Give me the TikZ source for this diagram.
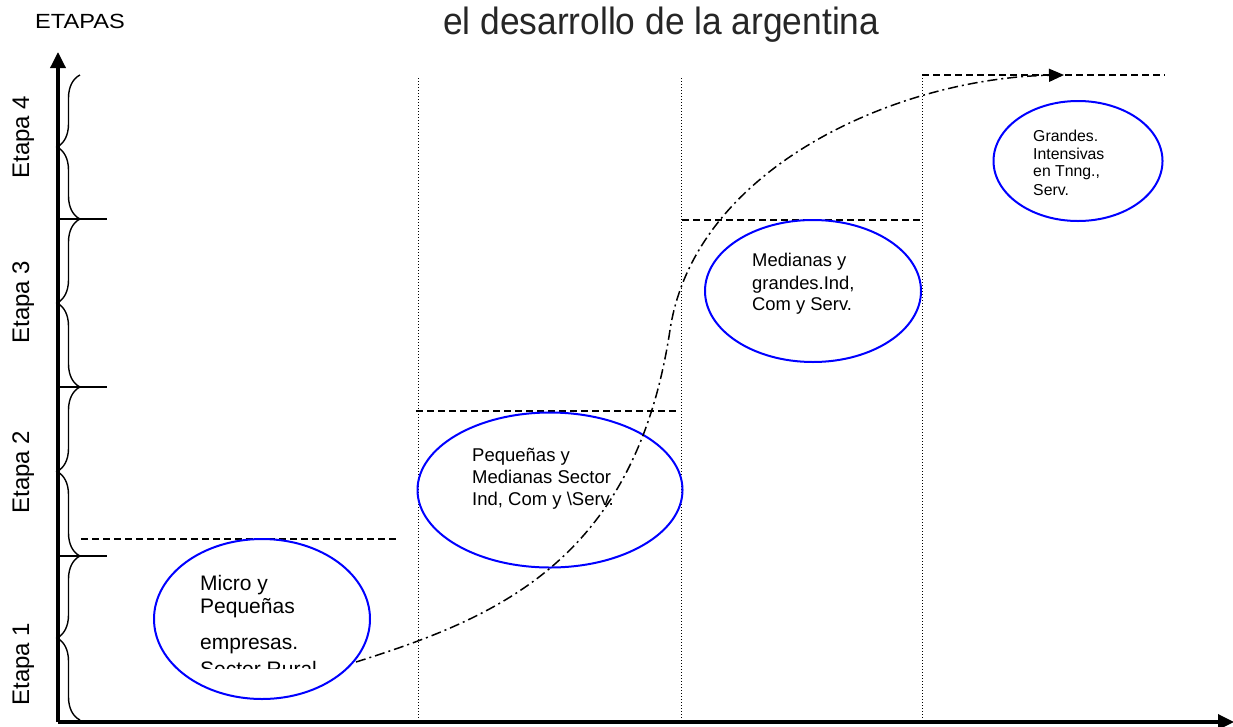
\documentclass[tikz,border=0pt]{standalone}
\usepackage{fontspec}
\setmainfont{Liberation Sans}
\usetikzlibrary{arrows.meta,decorations.pathreplacing,shapes.geometric}
\begin{document}
\begin{tikzpicture}[x=1pt,y=-1pt,
  axisline/.style={line width=3.4pt,-{Triangle[length=16pt,width=15pt]}},
  stagebrace/.style={decorate,decoration={brace,amplitude=23pt},line width=1.4pt},
  tickline/.style={line width=1.4pt},
  levelline/.style={dash pattern=on 7pt off 4pt,line width=1.4pt},
  divider/.style={dash pattern=on 1pt off 2pt,line width=1pt},
  firm/.style={ellipse,draw=blue,line width=2pt,inner sep=0pt},
  trend/.style={dash pattern=on 10pt off 4pt on 2pt off 4pt,line width=1.5pt,-{Triangle[length=15pt,width=13pt]}},
  lbl/.style={anchor=base west,inner sep=0pt},
  stage/.style={anchor=base,inner sep=0pt,rotate=90,font=\fontsize{24}{28}\selectfont}
]
\useasboundingbox (0,0) rectangle (1233,726);

% title and axis label
\node[lbl,xscale=0.93,text=black!85,font=\fontsize{38}{41}\selectfont] (title) at (443,34) {el desarrollo de la argentina};
\node[lbl,xscale=1.15,font=\fontsize{20.5}{24}\selectfont] (etapas) at (35,28.3) {ETAPAS};

% axes
\coordinate (O) at (58,722);
\coordinate (ytop) at (58,52);
\coordinate (xend) at (1234,722);
\draw[axisline] (O) -- (ytop);
\draw[axisline] (O) -- (xend);

% braces and ticks
\coordinate (b0) at (80,720);
\coordinate (b1) at (80,556);
\coordinate (b2) at (80,387);
\coordinate (b3) at (80,219);
\coordinate (b4) at (80,75);
\draw[stagebrace] (b0) -- (b1);
\draw[stagebrace] (b1) -- (b2);
\draw[stagebrace] (b2) -- (b3);
\draw[stagebrace] (b3) -- (b4);
\coordinate (t1a) at (58,556); \coordinate (t1b) at (107,556);
\coordinate (t2a) at (58,387); \coordinate (t2b) at (107,387);
\coordinate (t3a) at (58,219); \coordinate (t3b) at (107,219);
\draw[tickline] (t1a) -- (t1b);
\draw[tickline] (t2a) -- (t2b);
\draw[tickline] (t3a) -- (t3b);

% stage labels
\node[stage] (s1) at (29,664) {Etapa 1};
\node[stage] (s2) at (29,472) {Etapa 2};
\node[stage] (s3) at (29,302) {Etapa 3};
\node[stage] (s4) at (29,137) {Etapa 4};

% dotted dividers
\coordinate (d1a) at (418,78);  \coordinate (d1b) at (418,720);
\coordinate (d2a) at (681,78);  \coordinate (d2b) at (681,720);
\coordinate (d3a) at (922,75);  \coordinate (d3b) at (922,720);
\draw[divider] (d1a) -- (d1b);
\draw[divider] (d2a) -- (d2b);
\draw[divider] (d3a) -- (d3b);

% dashed levels
\coordinate (l1a) at (81,539);  \coordinate (l1b) at (396,539);
\coordinate (l2a) at (416,411); \coordinate (l2b) at (678,411);
\coordinate (l3a) at (682,220); \coordinate (l3b) at (920,220);
\coordinate (l4a) at (922,75);  \coordinate (l4b) at (1165,75);
\draw[levelline] (l1a) -- (l1b);
\draw[levelline] (l2a) -- (l2b);
\draw[levelline] (l3a) -- (l3b);
\draw[levelline] (l4a) -- (l4b);

% ellipses
\node[firm,minimum width=216pt,minimum height=160pt] (e1) at (262,619) {};
\node[firm,minimum width=265pt,minimum height=155pt] (e2) at (550,490) {};
\node[firm,minimum width=216pt,minimum height=142pt] (e3) at (813,291) {};
\node[firm,minimum width=169pt,minimum height=120pt] (e4) at (1078,161) {};

% texts of ellipse 1
\begin{scope}[font=\fontsize{21}{25}\selectfont]
\node[lbl] (m1) at (200,590) {Micro y};
\node[lbl] (m2) at (200,613) {Pequeñas};
\node[lbl] (m3) at (200,649.3) {empresas.};
\begin{scope}
\clip (150,600) rectangle (380,668);
\node[lbl] (m4) at (200,676.5) {Sector Rural};
\end{scope}
\end{scope}

% texts of ellipse 2
\begin{scope}[font=\fontsize{18.5}{22}\selectfont]
\node[lbl] (p1) at (472,461.7) {Pequeñas y};
\node[lbl] (p2) at (472,483.3) {Medianas Sector};
\node[lbl] (p3) at (472,505) {Ind, Com y \textbackslash Serv.};
\end{scope}

% texts of ellipse 3
\begin{scope}[font=\fontsize{18.4}{22}\selectfont]
\node[lbl] (g1) at (752,266.7) {Medianas y};
\node[lbl] (g2) at (752,289.3) {grandes.Ind,};
\node[lbl] (g3) at (752,310) {Com y Serv.};
\end{scope}

% texts of ellipse 4
\begin{scope}[font=\fontsize{15.8}{19}\selectfont]
\node[lbl] (h1) at (1033,141) {Grandes.};
\node[lbl] (h2) at (1033,159) {Intensivas};
\node[lbl] (h3) at (1033,176.7) {en Tnng.,};
\node[lbl] (h4) at (1033,195) {Serv.};
\end{scope}

% trend curve
\coordinate (c0) at (356,662);
\coordinate (c1) at (670,330);
\coordinate (c2) at (1064,75);
\draw[trend] (c0) .. controls (495,618) and (635,562) .. (c1) .. controls (695,166) and (900,78) .. (c2);
\end{tikzpicture}
\end{document}
